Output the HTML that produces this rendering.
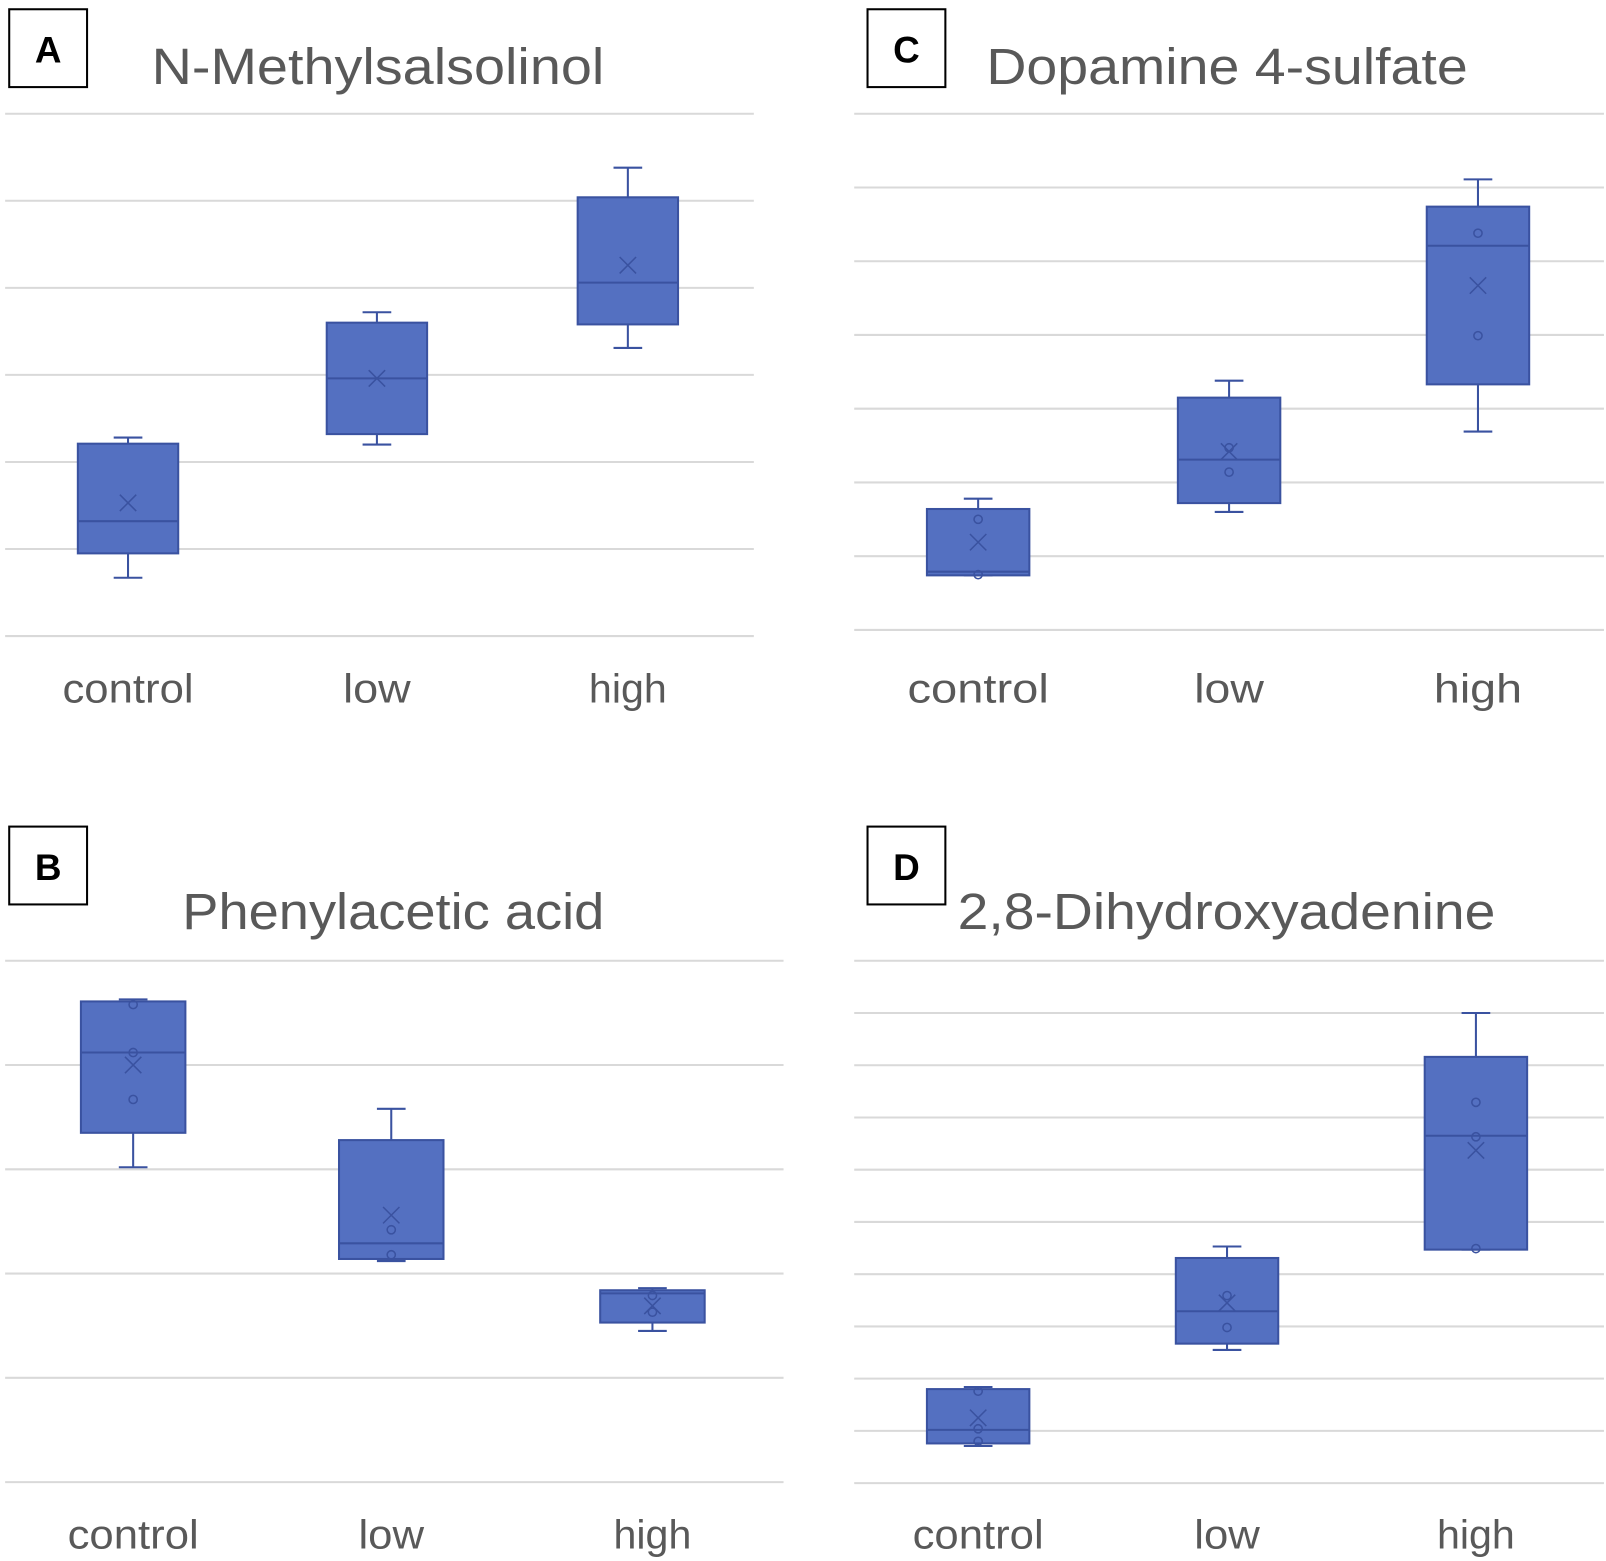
<!DOCTYPE html>
<html><head><meta charset="utf-8"><style>
html,body{margin:0;padding:0;background:#fff}
svg{display:block}
text{font-family:"Liberation Sans",sans-serif}
</style></head>
<body>
<svg id="fig" width="1606" height="1561" viewBox="0 0 1568 1524" xmlns="http://www.w3.org/2000/svg"></svg>
<script>
// ---- data (value units = gridline steps) ----
const categories = ["control","low","high"];
// Panel A: N-Methylsalsolinol
const aMin=[0.67,2.20,3.31], aQ1=[0.95,2.32,3.58], aMed=[1.32,2.96,4.06], aQ3=[2.21,3.60,5.04], aMax=[2.28,3.72,5.38], aMean=[1.53,2.96,4.26];
const aPts=[[],[],[]];
// Panel C: Dopamine 4-sulfate
const cMin=[0.74,1.60,2.69], cQ1=[0.74,1.72,3.33], cMed=[0.79,2.31,5.21], cQ3=[1.64,3.15,5.74], cMax=[1.78,3.38,6.11], cMean=[1.19,2.42,4.67];
const cPts=[[1.50,0.75],[2.47,2.14],[5.38,3.99]];
// Panel B: Phenylacetic acid
const bMin=[3.02,2.12,1.45], bQ1=[3.35,2.14,1.53], bMed=[4.12,2.29,1.81], bQ3=[4.61,3.28,1.84], bMax=[4.63,3.58,1.86], bMean=[4.00,2.56,1.69];
const bPts=[[4.58,4.12,3.67],[2.42,2.18],[1.79,1.63]];
// Panel D: 2,8-Dihydroxyadenine
const dMin=[0.71,2.55,4.47], dQ1=[0.76,2.67,4.47], dMed=[1.02,3.29,6.65], dQ3=[1.80,4.31,8.16], dMax=[1.84,4.53,9.00], dMean=[1.25,3.45,6.37];
const dPts=[[1.76,1.04,0.80],[3.59,2.98],[7.29,6.63,4.49]];
const axisMax=[6,7,5,10];

const NS="http://www.w3.org/2000/svg";
const svg=document.getElementById('fig');
function mk(tag,attrs,parent){const e=document.createElementNS(NS,tag);for(const k in attrs)e.setAttribute(k,attrs[k]);(parent||svg).appendChild(e);return e;}

const panels=[
 {id:"a",letter:"A",title:"N-Methylsalsolinol",tx:148,tw:442,ty:82,bx:9,by:9,gx0:5,gx1:736,top:111,bot:621,xs:[125,368,613],bw:98,ly:686,lw:[128,66,76],max:axisMax[0],d:[aMin,aQ1,aMed,aQ3,aMax,aMean,aPts]},
 {id:"c",letter:"C",title:"Dopamine 4-sulfate",tx:963,tw:470,ty:82,bx:847,by:9,gx0:834,gx1:1566,top:111,bot:615,xs:[955,1200,1443],bw:100,ly:686,lw:[138,68,86],max:axisMax[1],d:[cMin,cQ1,cMed,cQ3,cMax,cMean,cPts]},
 {id:"b",letter:"B",title:"Phenylacetic acid",tx:178,tw:412,ty:907,bx:9,by:807,gx0:5,gx1:765,top:938,bot:1447,xs:[130,382,637],bw:102,ly:1512,lw:[128,64,76],max:axisMax[2],d:[bMin,bQ1,bMed,bQ3,bMax,bMean,bPts]},
 {id:"d",letter:"D",title:"2,8-Dihydroxyadenine",tx:935,tw:525,ty:907,bx:847,by:807,gx0:834,gx1:1566,top:938,bot:1448,xs:[955,1198,1441],bw:100,ly:1512,lw:[128,64,76],max:axisMax[3],d:[dMin,dQ1,dMed,dQ3,dMax,dMean,dPts]}
];

panels.forEach(p=>{
  const g=mk('g',{});
  
  
  const y=v=>p.bot-(v/p.max)*(p.bot-p.top);
  // grid
  for(let i=0;i<=p.max;i++){
    const l=mk('line',{x1:p.gx0,x2:p.gx1,y1:y(i),y2:y(i),stroke:'#d9d9d9','stroke-width':2},g);
    
    
  }
  // letter box
  const r=mk('rect',{x:p.bx,y:p.by,width:76,height:76,fill:'#fff',stroke:'#000','stroke-width':2},g);
  
  
  const lt=mk('text',{x:p.bx+38,y:p.by+52,'text-anchor':'middle','font-size':36,'font-weight':'bold',fill:'#000'},g);
  lt.textContent=p.letter;
  
  
  const t=mk('text',{x:p.tx,y:p.ty,'font-size':50,fill:'#595959',textLength:p.tw,lengthAdjust:'spacingAndGlyphs'},g);
  t.textContent=p.title;
  
  
  const [mn,q1,md,q3,mx,mean,pts]=p.d;
  categories.forEach((c,i)=>{
    const cx=p.xs[i],hw=p.bw/2;
    const bg=mk('g',{stroke:'#3a52a0','stroke-width':2},g);
    
    
    mk('line',{x1:cx,x2:cx,y1:y(mx[i]),y2:y(q3[i])},bg);
    mk('line',{x1:cx,x2:cx,y1:y(q1[i]),y2:y(mn[i])},bg);
    mk('line',{x1:cx-14,x2:cx+14,y1:y(mx[i]),y2:y(mx[i])},bg);
    mk('line',{x1:cx-14,x2:cx+14,y1:y(mn[i]),y2:y(mn[i])},bg);
    mk('rect',{x:cx-hw,y:y(q3[i]),width:p.bw,height:y(q1[i])-y(q3[i]),fill:'#5470c1'},bg);
    mk('line',{x1:cx-hw,x2:cx+hw,y1:y(md[i]),y2:y(md[i])},bg);
    const my=y(mean[i]);
    mk('path',{d:`M${cx-8} ${my-8}L${cx+8} ${my+8}M${cx+8} ${my-8}L${cx-8} ${my+8}`,fill:'none','stroke-width':1.5},bg);
    pts[i].forEach(v=>{mk('circle',{cx:cx,cy:y(v),r:4,fill:'none','stroke-width':1.5},bg);});
    const xl=mk('text',{x:cx,y:p.ly,'text-anchor':'middle','font-size':40,fill:'#595959',textLength:p.lw[i],lengthAdjust:'spacingAndGlyphs'},g);
    xl.textContent=c;
    
    
  });
});
</script>
</body></html>
